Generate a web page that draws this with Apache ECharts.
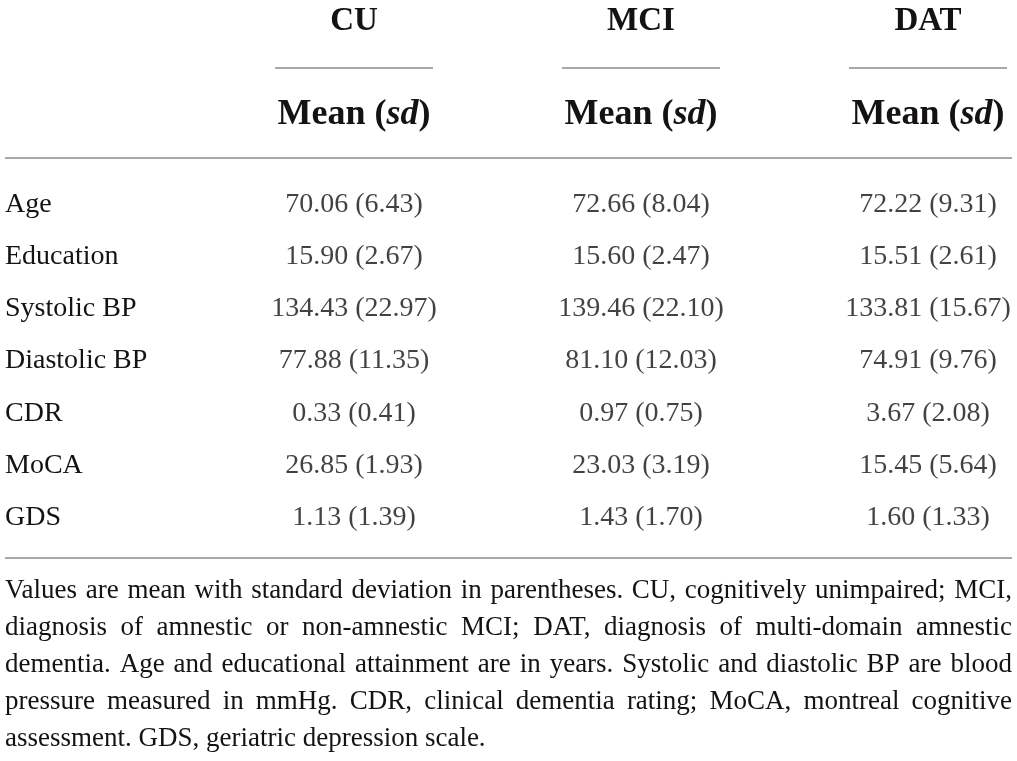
<!DOCTYPE html>
<html><head><meta charset="utf-8">
<script src="https://cdn.jsdelivr.net/npm/echarts@6/dist/echarts.min.js"></script>
<style>html,body{margin:0;padding:0;background:#fff}#c{width:1017px;height:761px}</style>
</head><body><div id="c"></div>
<script>
// ---- data ----
const groups = ['CU', 'MCI', 'DAT'];
const subHeader = 'Mean (sd)';
const rowLabels = ['Age', 'Education', 'Systolic BP', 'Diastolic BP', 'CDR', 'MoCA', 'GDS'];
const cuMean  = [70.06, 15.90, 134.43, 77.88, 0.33, 26.85, 1.13];
const cuSd    = [6.43, 2.67, 22.97, 11.35, 0.41, 1.93, 1.39];
const mciMean = [72.66, 15.60, 139.46, 81.10, 0.97, 23.03, 1.43];
const mciSd   = [8.04, 2.47, 22.10, 12.03, 0.75, 3.19, 1.70];
const datMean = [72.22, 15.51, 133.81, 74.91, 3.67, 15.45, 1.60];
const datSd   = [9.31, 2.61, 15.67, 9.76, 2.08, 5.64, 1.33];
const noteLines = [
  'Values are mean with standard deviation in parentheses. CU, cognitively unimpaired; MCI,',
  'diagnosis of amnestic or non-amnestic MCI; DAT, diagnosis of multi-domain amnestic',
  'dementia. Age and educational attainment are in years. Systolic and diastolic BP are blood',
  'pressure measured in mmHg. CDR, clinical dementia rating; MoCA, montreal cognitive',
  'assessment. GDS, geriatric depression scale.'
];

// ---- styling ----
const FONT = '"Liberation Serif", "Times New Roman", serif';
const INK = '#141213';
const RULE = '#a8a8a8';
const BODY = 28;

const means = [cuMean, mciMean, datMean];
const sds = [cuSd, mciSd, datSd];
const fmt = (m, s) => m.toFixed(2) + ' (' + s.toFixed(2) + ')';

const chart = echarts.init(document.getElementById('c'), null, {renderer: 'canvas'});

const series = groups.map((g, gi) => ({
  type: 'scatter',
  name: g,
  symbolSize: 0,
  silent: true,
  clip: false,
  data: rowLabels.map((r, ri) => [gi + 1, ri]),
  label: {
    show: true,
    position: 'inside',
    fontFamily: FONT,
    fontSize: BODY,
    color: INK,
    formatter: p => fmt(means[gi][p.dataIndex], sds[gi][p.dataIndex])
  }
}));

chart.setOption({
  backgroundColor: '#fff',
  animation: false,
  grid: {left: 67, right: 89, top: 178, bottom: 217, containLabel: false},
  xAxis: {type: 'value', min: 0, max: 3, show: false},
  yAxis: {
    type: 'category', data: rowLabels, inverse: true,
    axisLine: {show: false}, axisTick: {show: false}, splitLine: {show: false},
    axisLabel: {align: 'left', margin: 62, fontFamily: FONT, fontSize: BODY, color: INK}
  },
  series: series
});

// ---- header, rules and note ----
const graphics = [];
groups.forEach((g, gi) => {
  const px = chart.convertToPixel({gridIndex: 0}, [gi + 1, 0])[0];
  graphics.push({
    type: 'text', x: px, y: 21.5,
    style: {text: g, fontFamily: FONT, fontWeight: 'bold', fontSize: 33, fill: INK, align: 'center', verticalAlign: 'middle'}
  });
  graphics.push({
    type: 'line', shape: {x1: px - 79, y1: 68, x2: px + 79, y2: 68},
    style: {stroke: RULE, lineWidth: 2}
  });
  const m = subHeader.match(/^(.*\()(.*)(\))$/);
  graphics.push({
    type: 'text', x: px, y: 114.5,
    style: {
      text: '{b|' + m[1] + '}{i|' + m[2] + '}{b|' + m[3] + '}',
      align: 'center', verticalAlign: 'middle',
      rich: {
        b: {fontFamily: FONT, fontWeight: 'bold', fontSize: 36, fill: INK, color: INK},
        i: {fontFamily: FONT, fontWeight: 'bold', fontStyle: 'italic', fontSize: 36, fill: INK, color: INK}
      }
    }
  });
});
graphics.push({type: 'line', shape: {x1: 5, y1: 158, x2: 1012, y2: 158}, style: {stroke: RULE, lineWidth: 2}});
graphics.push({type: 'line', shape: {x1: 5, y1: 558, x2: 1012, y2: 558}, style: {stroke: RULE, lineWidth: 2}});

// justified note
const cv = document.createElement('canvas').getContext('2d');
const L = 5, R = 1012;
let fs = 27;
function widths(size) {
  cv.font = size + 'px ' + FONT;
  return noteLines.map(line => line.split(' ').map(w => cv.measureText(w).width));
}
function minWidth(size) {
  cv.font = size + 'px ' + FONT;
  const sp = cv.measureText(' ').width * 0.8;
  return Math.max(...noteLines.slice(0, -1).map(line => {
    const ws = line.split(' ');
    return ws.reduce((a, w) => a + cv.measureText(w).width, 0) + sp * (ws.length - 1);
  }));
}
while (fs > 20 && minWidth(fs) > R - L) fs -= 0.5;
const ww = widths(fs);
cv.font = fs + 'px ' + FONT;
const space = cv.measureText(' ').width;
noteLines.forEach((line, li) => {
  const words = line.split(' ');
  const total = ww[li].reduce((a, b) => a + b, 0);
  const last = li === noteLines.length - 1;
  const gap = last ? space : (R - L - total) / (words.length - 1);
  let x = L;
  const cy = 600.5 + 37 * li - 0.3375 * fs;
  words.forEach((w, wi) => {
    graphics.push({
      type: 'text', x: x, y: cy,
      style: {text: w, fontFamily: FONT, fontSize: fs, fill: INK, align: 'left', verticalAlign: 'middle'}
    });
    x += ww[li][wi] + gap;
  });
});

chart.setOption({graphic: graphics});
</script>
</body></html>
